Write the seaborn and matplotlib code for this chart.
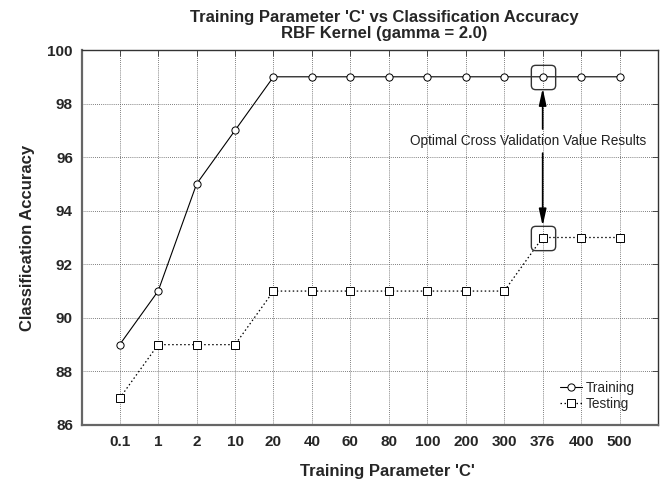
import numpy as np
import pandas as pd
import matplotlib
matplotlib.use("Agg")
import matplotlib.pyplot as plt
import seaborn as sns
from matplotlib.patches import FancyBboxPatch

# ---- data ----
c_labels = ["0.1", "1", "2", "10", "20", "40", "60", "80", "100", "200", "300", "376", "400", "500"]
training = [89, 91, 95, 97, 99, 99, 99, 99, 99, 99, 99, 99, 99, 99]
testing = [87, 89, 89, 89, 91, 91, 91, 91, 91, 91, 91, 93, 93, 93]
y_ticks = [86, 88, 90, 92, 94, 96, 98, 100]
optimal_label = "376"

sns.set_style("white")
plt.rcParams['font.family'] = ['Liberation Sans', 'DejaVu Sans']

pos = np.arange(len(c_labels))
df = pd.DataFrame({"pos": pos, "Training": training, "Testing": testing})

fig = plt.figure(figsize=(6.64, 4.8), dpi=100)
ax = fig.add_axes([0.1235, 0.1146, 0.8675, 0.7812])

sns.lineplot(data=df, x="pos", y="Training", ax=ax, color="black", lw=0.8,
             marker="o", markersize=5.2, markerfacecolor="white",
             markeredgecolor="black", markeredgewidth=0.7, label="Training", zorder=3)
sns.lineplot(data=df, x="pos", y="Testing", ax=ax, color="black", lw=0.9,
             linestyle=(0, (1.2, 2.0)),
             marker="s", markersize=5.2, markerfacecolor="white",
             markeredgecolor="black", markeredgewidth=0.7, label="Testing", zorder=3)

ax.set_xlim(-0.98, 14.0)
ax.set_ylim(86, 100)
ax.set_xticks(pos)
ax.set_xticklabels(c_labels)
ax.set_yticks(y_ticks)
ax.grid(True, color="#555555", linestyle=(0, (1, 1.5)), linewidth=0.6)
ax.tick_params(direction="in", top=True, right=True, length=4, width=0.6,
               color="#333333", labelsize=11, pad=6.5)
ax.tick_params(axis="x", pad=7.5)
for lab in ax.get_xticklabels() + ax.get_yticklabels():
    lab.set_fontweight("bold")
for s in ax.spines.values():
    s.set_color("#333333")
    s.set_linewidth(1.0)
ax.spines["left"].set_color("#666666")
ax.spines["left"].set_linewidth(1.6)
ax.spines["bottom"].set_color("#666666")
ax.spines["bottom"].set_linewidth(1.6)

ax.set_xlabel("Training Parameter 'C'", fontsize=12, fontweight="bold")
ax.set_ylabel("Classification Accuracy", fontsize=12, fontweight="bold")
ax.xaxis.set_label_coords(0.53, -0.105)
ax.yaxis.set_label_coords(-0.082, 0.5)
ax.set_title("Training Parameter 'C' vs Classification Accuracy\nRBF Kernel (gamma = 2.0)",
             fontsize=12, fontweight="bold", x=0.525, pad=9, linespacing=1.05)

# rounded highlight boxes
bp = FancyBboxPatch((-0.5, -0.5), 1, 1, boxstyle="round,pad=0,rounding_size=0.18").get_path()
oi = c_labels.index(optimal_label)
ax.plot([pos[oi]], [training[oi]], linestyle="none", marker=bp, markersize=17.5,
        markerfacecolor="none", markeredgecolor="#333333", markeredgewidth=1.0, zorder=4)
ax.plot([pos[oi]], [testing[oi]], linestyle="none", marker=bp, markersize=17.5,
        markerfacecolor="none", markeredgecolor="#333333", markeredgewidth=1.0, zorder=4)

half = 0.43
ap = dict(arrowstyle="-|>,head_length=1.0,head_width=0.22", color="black", lw=1.2,
          shrinkA=0, shrinkB=0)
ax.annotate("", xy=(pos[oi], training[oi] - half), xytext=(pos[oi], 97.05), arrowprops=ap, zorder=5)
ax.annotate("", xy=(pos[oi], testing[oi] + half), xytext=(pos[oi], 96.15), arrowprops=ap, zorder=5)
ax.text(10.62, 96.6, "Optimal Cross Validation Value Results", fontsize=9.8,
        ha="center", va="center", color="#222222", zorder=6)

leg = ax.legend(loc="lower right", bbox_to_anchor=(0.969, 0.024), frameon=False,
                fontsize=9.8, handlelength=1.6, handletextpad=0.3, labelspacing=0.15,
                borderaxespad=0)

fig.savefig("out.png", dpi=100)
